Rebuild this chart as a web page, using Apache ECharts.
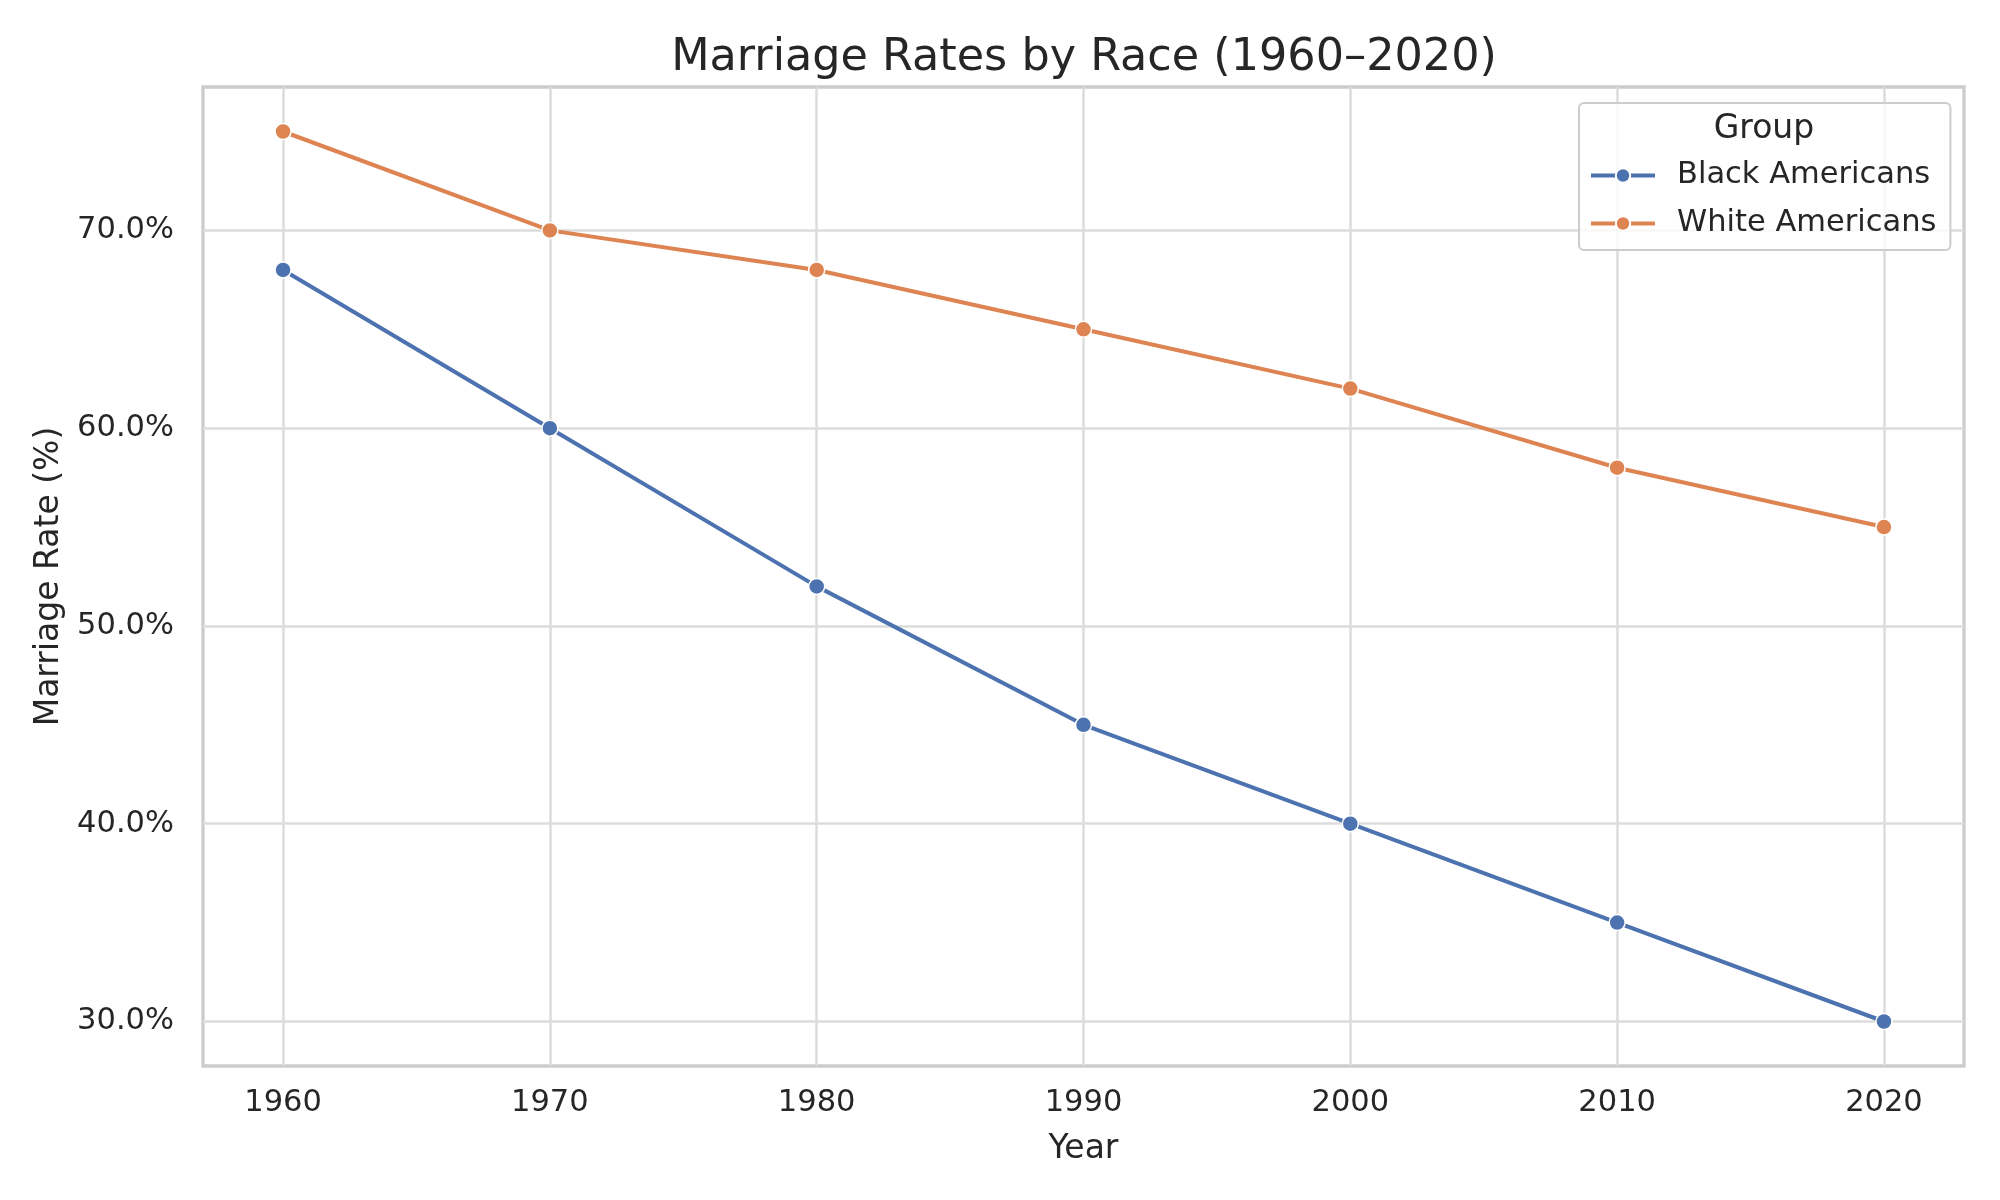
<!DOCTYPE html>
<html>
<head>
<meta charset="utf-8">
<script src="https://cdn.jsdelivr.net/npm/echarts@6/dist/echarts.min.js"></script>
<style>html,body{margin:0;padding:0;background:#fff}#c{width:2000px;height:1200px}</style>
</head>
<body>
<div id="c"></div>
<script>
const years = [1960, 1970, 1980, 1990, 2000, 2010, 2020];
const blackAmericans = [68, 60, 52, 45, 40, 35, 30];
const whiteAmericans = [75, 70, 68, 65, 62, 58, 55];
const yTicks = [30, 40, 50, 60, 70];
const xTicks = [1960, 1970, 1980, 1990, 2000, 2010, 2020];

const FONT = 'DejaVu Sans';
const TXT = '#262626';
const chart = echarts.init(document.getElementById('c'));
const mk = (name, ys, color) => ({
  name, type: 'line',
  data: years.map((y, i) => [y, ys[i]]),
  symbol: 'circle', symbolSize: 16,
  lineStyle: { color, width: 4 },
  itemStyle: { color, borderColor: '#ffffff', borderWidth: 1.5 },
  emphasis: { disabled: true }
});
chart.setOption({
  animation: false,
  backgroundColor: '#ffffff',
  textStyle: { fontFamily: FONT, color: TXT },
  title: {
    text: 'Marriage Rates by Race (1960–2020)',
    left: 1079, top: 31, textAlign: 'center',
    textStyle: { fontFamily: FONT, fontSize: 44.5, fontWeight: 'normal', color: TXT }
  },
  grid: {
    left: 203, top: 87, right: 36, bottom: 134,
    show: true, borderColor: '#cccccc', borderWidth: 3.3, backgroundColor: 'transparent'
  },
  xAxis: {
    type: 'value', min: 1957, max: 2023,
    name: 'Year', nameLocation: 'middle', nameGap: 67,
    nameTextStyle: { fontFamily: FONT, fontSize: 33, color: TXT },
    axisLine: { show: false },
    axisTick: { show: false, customValues: xTicks },
    axisLabel: { customValues: xTicks, margin: 22, fontFamily: FONT, fontSize: 30.5, color: TXT, formatter: v => String(v) },
    splitLine: { show: true, customValues: xTicks, lineStyle: { color: '#dcdcdc', width: 2.5 } }
  },
  yAxis: {
    type: 'value', min: 27.75, max: 77.25,
    name: 'Marriage Rate (%)', nameLocation: 'middle', nameGap: 134,
    nameTextStyle: { fontFamily: FONT, fontSize: 33, color: TXT },
    axisLine: { show: false },
    axisTick: { show: false, customValues: yTicks },
    axisLabel: { customValues: yTicks, margin: 29, fontFamily: FONT, fontSize: 30.5, color: TXT, formatter: v => v.toFixed(1) + '%' },
    splitLine: { show: true, customValues: yTicks, lineStyle: { color: '#dcdcdc', width: 2.5 } }
  },
  legend: {
    orient: 'vertical', left: 1579, top: 103,
    padding: [57, 14, 11, 10], itemGap: 17,
    itemWidth: 64, itemHeight: 18,
    lineStyle: { width: 4 },
    borderColor: '#cccccc', borderWidth: 2, borderRadius: 5,
    backgroundColor: 'rgba(255,255,255,0.8)',
    textStyle: { fontFamily: FONT, fontSize: 30.5, color: TXT, padding: [0, 0, 0, 17] },
    data: ['Black Americans', 'White Americans']
  },
  graphic: [{
    type: 'text', z: 100,
    x: 1764, y: 129,
    style: { text: 'Group', font: '33px "DejaVu Sans"', fill: TXT, align: 'center', verticalAlign: 'middle' }
  }],
  series: [
    mk('Black Americans', blackAmericans, '#4c72b0'),
    mk('White Americans', whiteAmericans, '#dd8452')
  ]
});
</script>
</body>
</html>
